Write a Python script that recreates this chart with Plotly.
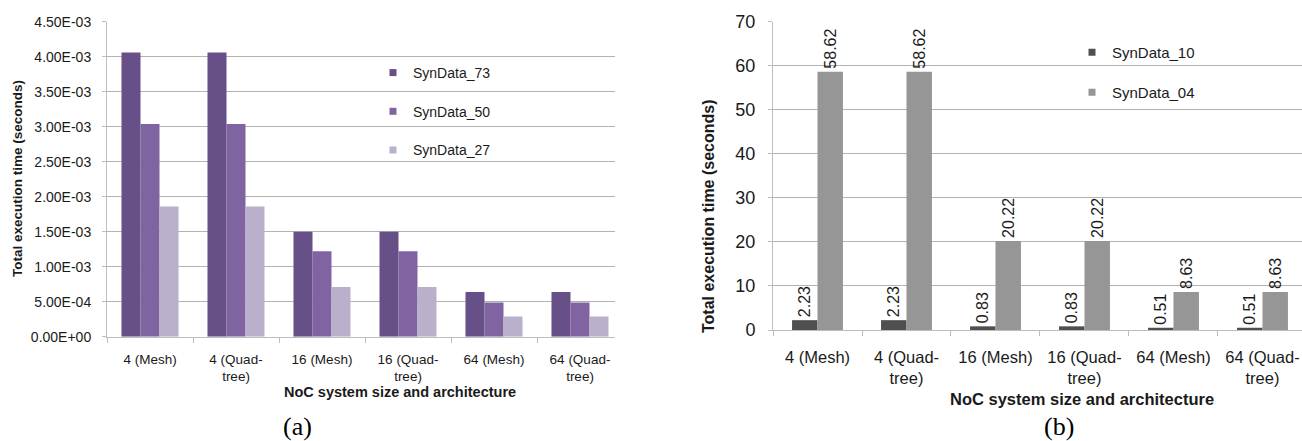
import plotly.graph_objects as go

# ---------------- data ----------------
categories = ["4 (Mesh)", "4 (Quad-<br>tree)", "16 (Mesh)", "16 (Quad-<br>tree)",
              "64 (Mesh)", "64 (Quad-<br>tree)"]

# chart (a)
syn73 = [4.06e-3, 4.06e-3, 1.50e-3, 1.50e-3, 6.4e-4, 6.4e-4]
syn50 = [3.04e-3, 3.04e-3, 1.22e-3, 1.22e-3, 4.9e-4, 4.9e-4]
syn27 = [1.86e-3, 1.86e-3, 7.1e-4, 7.1e-4, 2.9e-4, 2.9e-4]
a_tickvals = [0, 5e-4, 1e-3, 1.5e-3, 2e-3, 2.5e-3, 3e-3, 3.5e-3, 4e-3, 4.5e-3]
a_ticktext = ["0.00E+00", "5.00E-04", "1.00E-03", "1.50E-03", "2.00E-03",
              "2.50E-03", "3.00E-03", "3.50E-03", "4.00E-03", "4.50E-03"]

# chart (b)
syn10 = [2.23, 2.23, 0.83, 0.83, 0.51, 0.51]
syn04 = [58.62, 58.62, 20.22, 20.22, 8.63, 8.63]
b_tickvals = [0, 10, 20, 30, 40, 50, 60, 70]

# ---------------- style ----------------
W, H = 1302, 441
MT, MB = 16, 16           # fixed top / bottom margins
SANS = "Arial, Liberation Sans, sans-serif"
SERIF = "Times New Roman, Liberation Serif, serif"
TXT = "#1a1a1a"
GRID = "#b3b3b3"
AXL = "#bdbdbd"

def px_x(p):
    return p / W

def px_y(p):
    # picture pixel (from top) -> paper fraction of the plotting area
    return 1 - (p - MT) / (H - MT - MB)

fig = go.Figure()

# chart (a) bars
a_series = [("SynData_73", syn73, "#674f87", -0.3315),
            ("SynData_50", syn50, "#8064a2", -0.1105),
            ("SynData_27", syn27, "#bab0cc", 0.1105)]
for name, vals, col, off in a_series:
    fig.add_trace(go.Bar(x=categories, y=vals, name=name, marker_color=col,
                         marker_line_width=0, width=0.221, offset=off,
                         showlegend=False, xaxis="x", yaxis="y"))
    fig.add_trace(go.Scatter(x=[None], y=[None], mode="markers", name=name,
                             marker=dict(symbol="square", size=7, color=col),
                             legendgroup=name, legend="legend",
                             xaxis="x", yaxis="y"))

# chart (b) bars
b_series = [("SynData_10", syn10, "#4f4f4f", -0.286),
            ("SynData_04", syn04, "#969696", 0.0)]
for name, vals, col, off in b_series:
    fig.add_trace(go.Bar(x=categories, y=vals, name=name, marker_color=col,
                         marker_line_width=0, width=0.286, offset=off,
                         text=[f"{v:.2f}" for v in vals], textposition="outside",
                         textangle=-90, constraintext="none", cliponaxis=False,
                         textfont=dict(family=SANS, size=16, color=TXT),
                         showlegend=False, xaxis="x2", yaxis="y2"))
    fig.add_trace(go.Scatter(x=[None], y=[None], mode="markers", name=name,
                             marker=dict(symbol="square", size=7, color=col),
                             legendgroup=name, legend="legend2",
                             xaxis="x2", yaxis="y2"))

common_x = dict(type="category", showgrid=False, showline=True, linecolor=AXL,
                linewidth=1, ticks="outside", tickson="boundaries", ticklen=5,
                tickcolor=AXL, fixedrange=True)
common_y = dict(showgrid=True, gridcolor=GRID, gridwidth=1, showline=True,
                linecolor=AXL, linewidth=1, ticks="outside", ticklen=4,
                tickcolor=AXL, zeroline=False, fixedrange=True)

def ann(text, x, y, size, family=SANS, angle=0, color=TXT):
    return dict(text=text, x=px_x(x), y=px_y(y), xref="paper", yref="paper",
                xanchor="center", yanchor="middle", showarrow=False,
                textangle=angle, font=dict(size=size, family=family, color=color))

fig.update_layout(
    width=W, height=H, autosize=False,
    margin=dict(l=0, r=0, t=MT, b=MB, pad=0),
    paper_bgcolor="white", plot_bgcolor="white",
    barmode="group",
    font=dict(family=SANS, color=TXT),
    xaxis=dict(domain=[px_x(107), px_x(615)], range=[-0.5, 5.407],
               anchor="y", tickfont=dict(size=13.5, color=TXT),
               ticklabelstandoff=10, **common_x),
    yaxis=dict(domain=[px_y(336.7), px_y(21.7)], range=[0, 4.5e-3],
               tickvals=a_tickvals, ticktext=a_ticktext, anchor="x",
               tickfont=dict(size=14, color=TXT), ticklabelstandoff=8,
               **common_y),
    xaxis2=dict(domain=[px_x(773), 1.0], range=[-0.5, 5.444],
                anchor="y2", tickfont=dict(size=16.5, color=TXT),
                ticklabelstandoff=12, **common_x),
    yaxis2=dict(domain=[px_y(330), px_y(21.5)], range=[0, 70],
                tickvals=b_tickvals, anchor="x2",
                tickfont=dict(size=18, color=TXT), ticklabelstandoff=9,
                **common_y),
    legend=dict(x=px_x(373), y=px_y(57), xanchor="left", yanchor="top",
                font=dict(family=SANS, size=14, color=TXT),
                bgcolor="rgba(0,0,0,0)", tracegroupgap=17.5, itemclick=False),
    legend2=dict(x=px_x(1072), y=px_y(36), xanchor="left", yanchor="top",
                 font=dict(family=SANS, size=15, color=TXT),
                 bgcolor="rgba(0,0,0,0)", tracegroupgap=17.5, itemclick=False),
    annotations=[
        ann("<b>Total execution time (seconds)</b>", 17, 179, 13.5, angle=-90),
        ann("<b>NoC system size and architecture</b>", 400, 392, 14.5),
        ann("<b>Total execution time (seconds)</b>", 708, 216, 16, angle=-90),
        ann("<b>NoC system size and architecture</b>", 1082, 399, 16.5),
        ann("(a)", 297, 427, 26, family=SERIF, color="#000000"),
        ann("(b)", 1059, 427, 26, family=SERIF, color="#000000"),
    ],
)

fig.write_html("out.html",
               config={"displayModeBar": False, "responsive": False},
               post_script="document.body.style.margin='0px';"
                           "document.body.style.overflow='hidden';")
